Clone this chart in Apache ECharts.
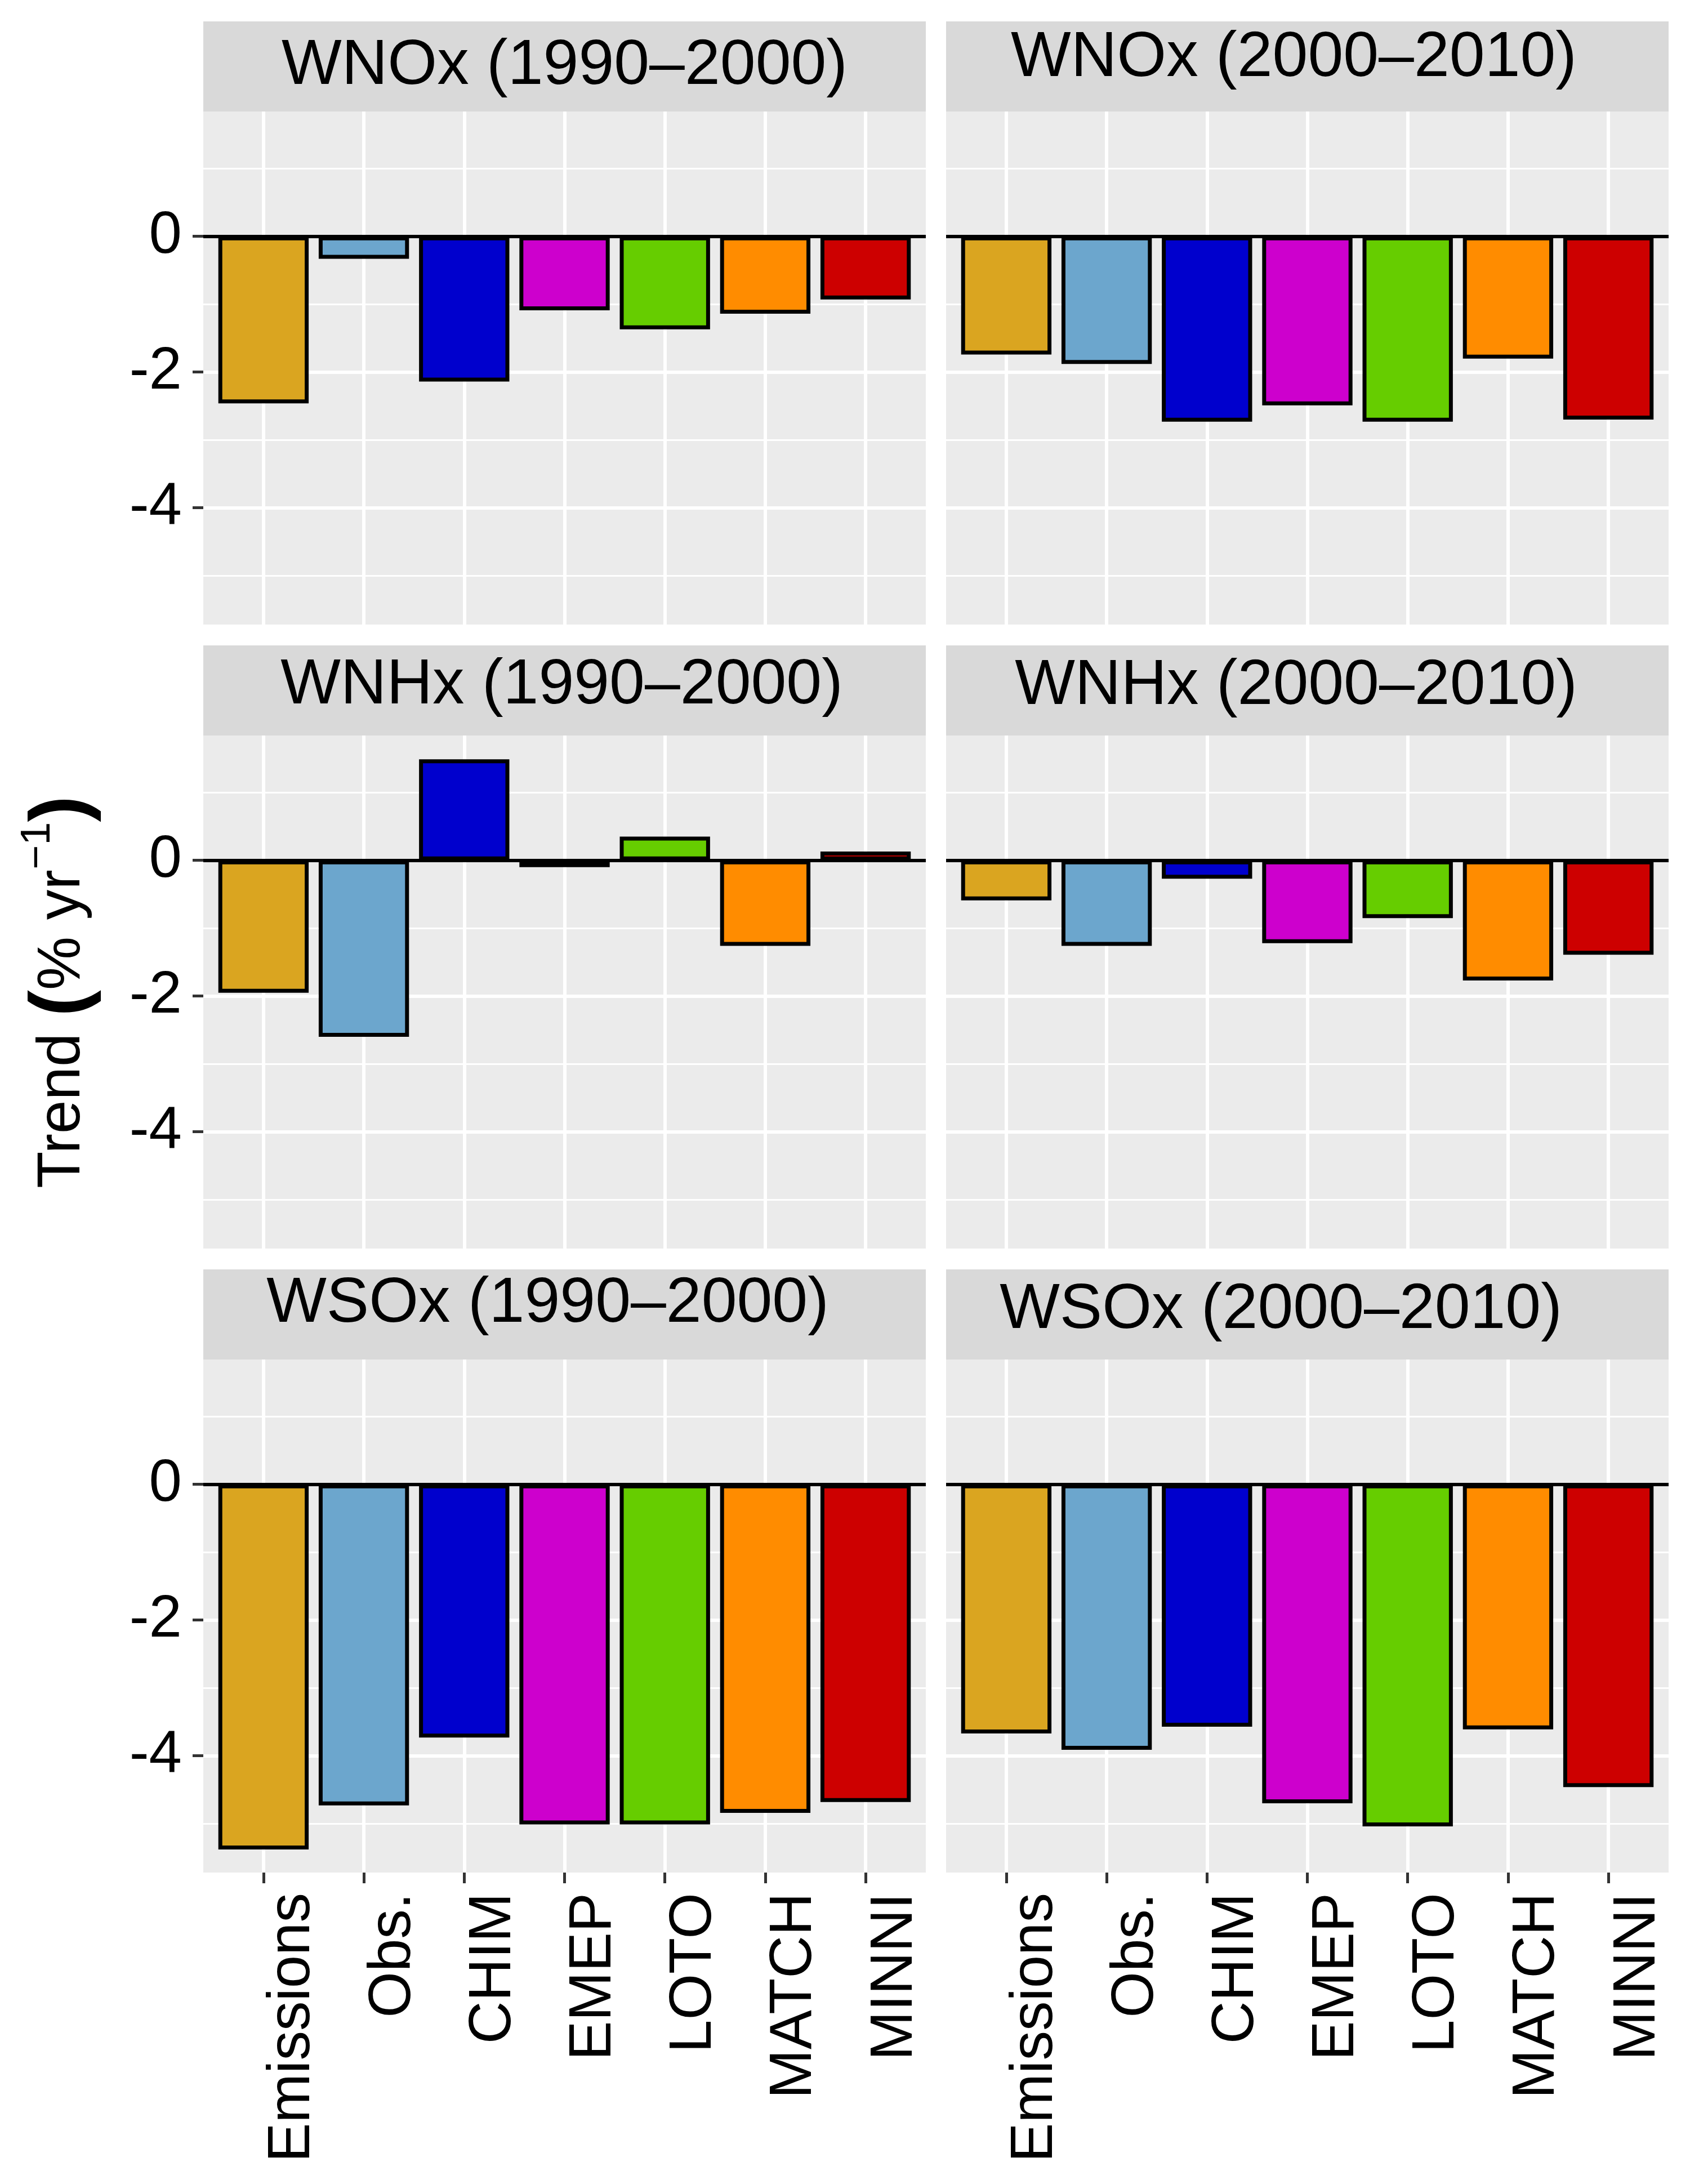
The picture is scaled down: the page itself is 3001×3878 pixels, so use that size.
<!DOCTYPE html>
<html><head><meta charset="utf-8">
<script src="https://cdn.jsdelivr.net/npm/echarts@6/dist/echarts.min.js"></script>
<style>html,body{margin:0;padding:0;background:#fff}#c{width:3001px;height:3878px}</style>
</head><body><div id="c"></div>
<script>
// ---- data ----
const categories = ['Emissions', 'Obs.', 'CHIM', 'EMEP', 'LOTO', 'MATCH', 'MINNI'];
const barColors = ['#DAA520', '#6CA6CD', '#0000CD', '#CD00CD', '#66CD00', '#FF8C00', '#CD0000'];
const panelTitles = ['WNOx (1990–2000)', 'WNOx (2000–2010)', 'WNHx (1990–2000)', 'WNHx (2000–2010)', 'WSOx (1990–2000)', 'WSOx (2000–2010)'];
const wnox1990 = [-2.46, -0.33, -2.14, -1.09, -1.37, -1.14, -0.93];
const wnox2000 = [-1.74, -1.88, -2.73, -2.49, -2.73, -1.80, -2.70];
const wnhx1990 = [-1.95, -2.60, 1.49, -0.10, 0.35, -1.26, 0.13];
const wnhx2000 = [-0.59, -1.26, -0.27, -1.22, -0.85, -1.77, -1.39];
const wsox1990 = [-5.38, -4.73, -3.73, -5.01, -5.01, -4.84, -4.68];
const wsox2000 = [-3.67, -3.91, -3.57, -4.70, -5.04, -3.61, -4.46];
const yTickValues = [-4, -2, 0];
const yTitle = 'Trend';

const panelData = [wnox1990, wnox2000, wnhx1990, wnhx2000, wsox1990, wsox2000];
const catIdx = categories.map((c, i) => i);

// ---- layout ----
const FONT = 'Liberation Sans, Arial, Helvetica, sans-serif';
const colLeft = [361, 1680];
const panelW = 1283;
const rowTop = [198, 1306, 2414];
const panelH = 911;
const stripH = 160;
const stripTextDx = [0, -24, -5, -20, -30, -47];
const stripTextY = [80, 66, 72, 73, 62, 73];

const grids = [], xAxes = [], yAxes = [], series = [], graphics = [];
panelData.forEach((vals, i) => {
  const r = Math.floor(i / 2), c = i % 2;
  const isBottom = r === 2, isLeft = c === 0;
  grids.push({
    left: colLeft[c], top: rowTop[r], width: panelW, height: panelH,
    show: true, backgroundColor: '#EBEBEB', borderWidth: 0,
    containLabel: false, outerBoundsMode: 'none'
  });
  xAxes.push({
    gridIndex: i, type: 'value', position: 'bottom', min: -0.6, max: 6.6, minInterval: 1, maxInterval: 1,
    axisLine: { show: false, onZero: false },
    axisTick: { show: isBottom, customValues: catIdx, length: 19, lineStyle: { color: '#333333', width: 5 } },
    axisLabel: {
      show: isBottom, customValues: catIdx, rotate: 90, margin: 36,
      formatter: v => categories[Math.round(v)] || '',
      fontSize: 105, color: '#000', fontFamily: FONT, verticalAlign: 'top'
    },
    splitLine: { show: true, lineStyle: { color: '#FFFFFF', width: 6 } },
    minorSplitLine: { show: false }
  });
  const yAx = {
    gridIndex: i, type: 'value', position: 'left', min: -5.72, max: 1.84, minInterval: 2, maxInterval: 2,
    axisLine: { show: false, onZero: false },
    axisTick: { show: isLeft, customValues: yTickValues, length: 19, lineStyle: { color: '#333333', width: 5 } },
    axisLabel: {
      show: isLeft, customValues: yTickValues,
      margin: 38, fontSize: 105, color: '#000', fontFamily: FONT,
      formatter: v => String(v)
    },
    splitLine: { show: true, lineStyle: { color: '#FFFFFF', width: 6 } },
    minorTick: { show: false, splitNumber: 2 },
    minorSplitLine: { show: true, lineStyle: { color: '#FFFFFF', width: 3 } }
  };
  if (i === 2) {
    yAx.name = '{t|' + yTitle + ' }{p|(}{t|% yr}{s|−1}{p|)}';
    yAx.nameLocation = 'middle';
    yAx.nameRotate = 90;
    yAx.nameGap = 170;
    yAx.nameMoveOverlap = false;
    yAx.nameTextStyle = {
      color: '#000', fontFamily: FONT, fontSize: 107,
      rich: {
        t: { fontSize: 107, fontFamily: FONT, color: '#000', lineHeight: 160 },
        p: { fontSize: 140, fontFamily: FONT, fontWeight: 'bold', color: '#000', lineHeight: 160 },
        s: { fontSize: 74, fontFamily: FONT, color: '#000', lineHeight: 74, verticalAlign: 'top' }
      }
    };
  }
  yAxes.push(yAx);
  series.push({
    type: 'bar', xAxisIndex: i, yAxisIndex: i, barWidth: '90%', z: 2,
    data: vals.map((v, j) => ({ value: [j, v], itemStyle: { color: barColors[j] } })),
    itemStyle: { borderColor: '#000000', borderWidth: 7 },
    emphasis: { disabled: true },
    markLine: {
      silent: true, symbol: 'none', animation: false,
      label: { show: false },
      lineStyle: { color: '#000000', width: 6, type: 'solid' },
      emphasis: { disabled: true },
      data: [{ yAxis: 0 }]
    }
  });
  // facet strip
  const sx = colLeft[c], sy = rowTop[r] - stripH;
  graphics.push({
    type: 'rect', silent: true, z: 10,
    shape: { x: sx, y: sy, width: panelW, height: stripH },
    style: { fill: '#D9D9D9' }
  });
  graphics.push({
    type: 'text', silent: true, z: 11,
    style: {
      text: panelTitles[i], x: sx + panelW / 2 + stripTextDx[i], y: sy + stripTextY[i],
      fill: '#000', font: '113px ' + FONT,
      align: 'center', verticalAlign: 'middle', textAlign: 'center', textVerticalAlign: 'middle'
    }
  });
});

const chart = echarts.init(document.getElementById('c'), null, { renderer: 'canvas' });
chart.setOption({
  animation: false,
  backgroundColor: '#FFFFFF',
  textStyle: { fontFamily: FONT },
  grid: grids,
  xAxis: xAxes,
  yAxis: yAxes,
  series: series,
  graphic: { elements: graphics }
});
</script>
</body></html>
